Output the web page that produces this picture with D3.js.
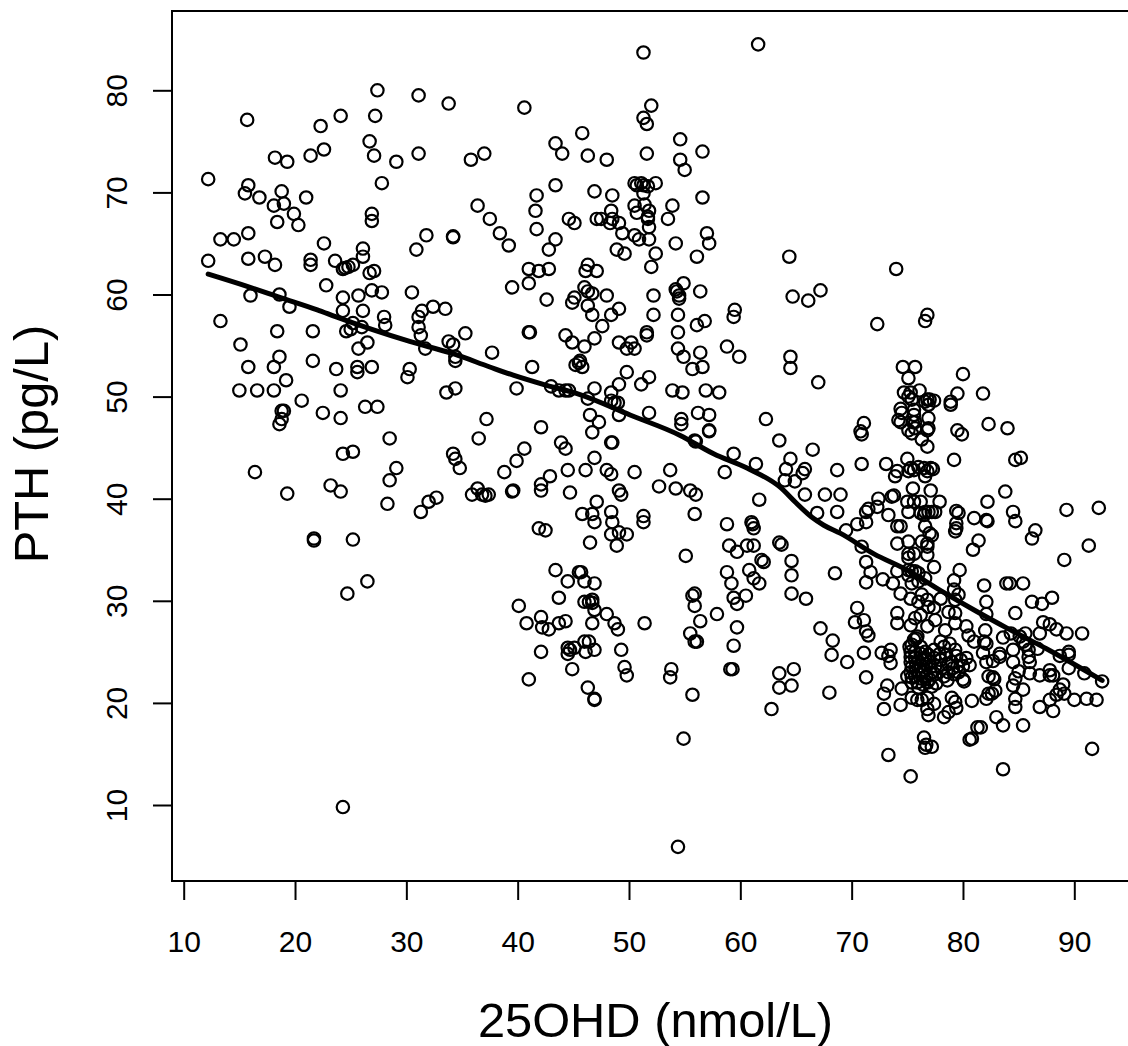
<!DOCTYPE html>
<html>
<head>
<meta charset="utf-8">
<script src="https://cdn.jsdelivr.net/npm/d3@7"></script>
<style>
  body { margin: 0; background: #fff; }
  text { font-family: "Liberation Sans", Arial, sans-serif; fill: #000; }
</style>
</head>
<body>
<svg id="chart"></svg>
<script>
// values, [25OHD, PTH], grouped by region
const upperLeft = [[27.4,80.0],[31.1,79.5],[33.8,78.7],[15.7,77.1],[22.3,76.5],[24.1,77.5],[27.2,77.5],[26.7,75.0],[27.1,73.6],[29.1,73.0],[31.1,73.8],[35.8,73.2],[37.0,73.8],[18.2,73.4],[19.3,73.0],[21.4,73.6],[22.6,74.2],[12.2,71.3],[15.8,70.7],[15.5,69.9],[16.8,69.5],[18.8,70.1],[18.1,68.7],[19.0,68.9],[21.0,69.5],[27.8,70.9],[36.4,68.7],[37.5,67.4],[19.9,67.9],[18.4,67.1],[20.3,66.8],[26.9,67.9],[26.9,67.2],[15.8,66.0],[13.3,65.4],[14.5,65.4],[31.8,65.8],[34.2,65.7],[34.2,65.6],[30.9,64.4],[22.6,65.0],[26.1,64.5],[26.1,63.7],[12.2,63.3],[15.8,63.5],[17.3,63.7],[18.2,62.9],[21.4,63.4],[21.4,62.9],[23.6,63.3],[24.3,62.5],[24.5,62.6],[24.8,62.7],[25.2,62.9],[27.1,62.3],[26.7,62.1],[22.8,60.9],[26.9,60.4],[27.8,60.2],[30.5,60.2],[16.0,59.9],[18.6,60.0],[24.3,59.7],[25.7,59.9]];

const lowerLeft = [[19.5,58.8],[24.3,58.4],[26.1,58.4],[28.0,57.8],[28.1,57.0],[31.4,58.4],[31.1,57.8],[32.4,58.8],[33.5,58.6],[31.1,56.8],[31.3,56.0],[31.7,54.7],[13.3,57.4],[18.4,56.4],[21.6,56.4],[25.2,57.2],[24.6,56.4],[25.0,56.6],[26.0,56.8],[26.5,55.3],[25.7,54.7],[35.3,56.2],[33.8,55.4],[34.2,55.1],[34.4,53.9],[34.4,53.5],[37.7,54.3],[15.1,55.1],[18.6,53.9],[18.1,52.9],[15.8,52.9],[21.6,53.5],[23.7,52.7],[25.6,52.9],[25.6,52.4],[26.9,52.9],[30.3,52.7],[30.1,51.9],[19.2,51.6],[15.0,50.6],[16.6,50.6],[18.1,50.6],[24.1,50.6],[34.4,50.8],[33.6,50.4],[20.6,49.6],[18.8,48.6],[19.0,48.6],[18.8,47.8],[18.6,47.3],[22.5,48.4],[24.1,47.9],[26.3,49.0],[27.4,49.0],[37.2,47.8],[28.5,45.9],[36.5,45.9],[24.3,44.4],[25.2,44.6],[34.2,44.4],[34.4,43.9],[34.8,43.0],[29.1,43.0],[28.5,41.8],[16.4,42.6],[19.3,40.5],[23.2,41.3],[24.1,40.7],[28.3,39.5],[32.7,40.1],[32.0,39.7],[31.3,38.7],[36.4,41.0],[35.9,40.4],[36.8,40.4],[37.1,40.3],[37.4,40.4],[21.7,36.1],[21.7,35.9],[25.2,36.0],[26.5,31.9],[24.7,30.7],[24.3,9.8]];

const upperMiddle = [[51.3,83.7],[61.6,84.5],[40.6,78.3],[52.0,78.5],[51.3,77.3],[51.6,76.7],[45.8,75.8],[43.4,74.8],[44.0,73.8],[46.3,73.6],[48.0,73.2],[51.6,73.8],[54.6,75.2],[56.6,74.0],[54.6,73.2],[55.0,72.2],[43.4,70.7],[41.7,69.7],[46.9,70.1],[48.5,69.7],[50.5,70.9],[51.1,70.9],[50.7,70.7],[51.3,70.7],[51.7,70.6],[52.4,70.9],[51.3,69.9],[56.6,69.5],[38.4,66.0],[39.2,64.8],[41.6,68.2],[41.7,66.4],[43.4,65.4],[42.8,64.4],[44.6,67.4],[45.1,67.0],[47.1,67.4],[47.5,67.4],[48.3,67.0],[48.4,68.2],[48.5,67.4],[49.1,67.0],[50.5,68.7],[50.7,68.0],[51.4,68.8],[51.8,68.2],[51.7,67.6],[51.7,67.4],[53.9,68.7],[53.5,67.4],[51.8,66.6],[49.4,66.0],[50.5,65.8],[50.9,65.4],[51.8,65.4],[54.2,65.0],[57.0,66.0],[57.2,65.0],[48.9,64.4],[49.6,64.0],[52.4,64.0],[56.1,63.7],[64.4,63.7],[52.0,62.7],[41.0,62.5],[41.9,62.3],[42.8,62.5],[46.3,62.9],[46.1,62.3],[47.1,62.3],[41.0,61.1],[39.5,60.7],[42.6,59.5],[46.0,60.7],[46.3,60.3],[46.7,60.1],[48.0,59.9],[45.1,59.7],[44.9,59.2],[54.9,61.1],[54.2,60.5],[54.3,60.3],[54.5,59.9],[54.5,59.6],[56.4,60.3],[52.2,59.9],[46.3,58.9],[46.7,58.0],[49.1,58.6],[48.4,58.0],[47.6,56.9],[52.2,58.0],[54.4,58.0],[59.5,58.5],[59.4,57.8],[56.1,57.0],[56.8,57.4],[64.7,59.8],[66.1,59.4],[67.2,60.4],[72.3,57.1],[74.0,62.5],[76.6,57.4],[76.8,58.0]];

const centerMiddle = [[41.0,56.3],[41.1,56.3],[44.3,56.0],[44.9,55.3],[46.9,55.7],[46.0,54.9],[49.1,55.3],[50.2,55.3],[49.8,54.7],[50.5,54.7],[51.6,56.3],[51.6,56.0],[54.4,56.3],[54.4,54.7],[54.9,53.9],[56.4,54.3],[58.8,54.9],[59.9,53.9],[55.7,52.7],[56.6,52.9],[41.3,52.9],[45.2,53.1],[45.6,53.5],[45.8,52.9],[45.5,53.3],[49.8,52.4],[51.8,51.9],[51.1,51.2],[49.1,51.2],[46.9,50.8],[48.4,50.4],[53.9,50.6],[54.8,50.4],[56.9,50.6],[58.1,50.4],[39.9,50.8],[43.0,51.0],[43.7,50.6],[44.3,50.6],[44.6,50.6],[46.3,49.8],[48.4,49.6],[48.7,49.4],[49.0,49.4],[49.1,48.2],[51.8,48.4],[56.2,48.4],[57.2,48.2],[54.7,47.8],[54.7,47.3],[46.5,48.2],[47.3,47.5],[42.1,47.0],[46.7,46.5],[57.2,46.7],[57.2,46.6],[55.9,45.7],[56.0,45.6],[62.3,47.8],[63.5,45.7],[48.4,45.5],[48.5,45.5],[43.9,45.5],[44.3,44.9],[40.6,44.9],[39.9,43.7],[38.8,42.6],[46.9,44.0],[44.5,42.8],[46.1,42.8],[48.0,42.8],[48.4,42.4],[50.5,42.6],[53.7,42.8],[58.6,42.6],[59.4,44.4],[61.4,43.4],[42.9,42.2],[42.1,41.4],[42.1,40.8],[39.6,40.8],[39.5,40.7],[44.7,40.6],[52.7,41.2],[54.2,41.0],[55.5,40.8],[56.0,40.4],[49.1,40.8],[49.3,40.4],[47.1,39.7],[61.7,39.9],[55.9,38.5],[45.8,38.5],[46.7,38.5],[46.9,37.7],[48.4,38.7],[48.5,37.7],[51.3,38.3],[51.3,37.7],[58.8,37.5],[61.0,37.7],[61.1,37.5],[61.2,37.1],[41.9,37.1],[42.5,36.9],[48.4,36.5],[49.1,36.7],[49.8,36.5],[46.5,35.7],[48.9,35.4],[55.1,34.4],[59.0,35.4],[59.7,34.8],[60.6,35.4],[61.2,35.4],[63.5,35.7],[61.9,34.0],[62.1,33.8]];

const lowerMiddle = [[58.8,32.8],[59.2,31.7],[60.8,33.0],[61.2,32.2],[61.7,31.7],[43.4,33.0],[44.5,31.9],[45.5,32.8],[45.7,32.8],[46.0,31.9],[46.9,31.7],[43.7,30.3],[40.1,29.5],[46.0,29.9],[46.4,29.9],[46.7,30.1],[46.7,29.8],[46.9,29.1],[48.0,28.7],[55.9,30.7],[55.7,30.5],[55.9,29.5],[59.4,30.3],[60.5,30.5],[59.7,29.7],[57.9,28.7],[42.1,28.4],[40.8,27.8],[42.2,27.4],[42.8,27.2],[43.7,27.8],[44.3,28.0],[46.7,27.8],[48.7,27.8],[49.0,27.2],[51.4,27.8],[56.4,28.0],[55.5,26.8],[55.9,26.0],[56.1,26.0],[59.7,27.4],[59.4,25.6],[44.5,25.4],[44.5,24.8],[45.1,25.4],[44.7,25.2],[42.1,25.0],[46.0,26.0],[46.4,26.0],[46.1,25.0],[46.9,25.2],[49.3,25.2],[49.6,23.5],[49.8,22.7],[44.9,23.3],[41.0,22.3],[53.8,23.3],[53.7,22.5],[59.1,23.3],[59.3,23.3],[55.7,20.8],[46.3,21.5],[46.9,20.4],[46.9,20.3],[54.9,16.5],[54.4,5.9],[63.5,22.9],[63.5,21.5],[62.8,19.4],[64.8,23.3],[64.6,21.7],[67.2,27.3],[68.3,26.1],[68.2,24.7],[68.0,21.0],[65.9,30.2],[64.6,30.7],[64.6,32.5],[64.6,33.9],[63.7,35.5],[68.5,32.7]];

const upperRight = [[64.5,53.9],[64.5,52.8],[67.0,51.4],[74.6,52.9],[75.7,52.9],[75.1,51.8],[74.7,50.4],[75.3,50.4],[76.1,50.6],[75.1,50.0],[75.4,49.7],[76.8,49.7],[77.0,49.7],[77.4,49.6],[76.9,49.2],[76.6,49.5],[78.9,49.5],[78.9,49.2],[79.5,50.3],[80.0,52.2],[81.8,50.3],[82.3,47.3],[84.0,46.9],[74.4,48.8],[74.5,48.4],[74.2,47.7],[74.4,47.5],[75.6,48.7],[75.6,48.2],[76.9,47.9],[75.5,47.5],[75.7,47.5],[76.9,46.9],[76.8,46.7],[75.1,46.7],[75.4,46.4],[75.7,46.9],[76.3,45.8],[76.8,45.1],[71.1,47.4],[70.8,46.6],[70.9,46.3],[79.5,46.7],[79.9,46.3],[66.5,44.8],[64.5,43.9],[64.1,42.9],[65.8,42.9],[65.6,42.5],[64.0,41.8],[64.9,41.7],[68.7,42.8],[70.9,43.4],[73.1,43.4],[75.0,43.9],[74.1,42.7],[73.9,42.2],[75.3,43.0],[75.6,42.8],[76.0,43.1],[76.5,43.0],[76.8,42.7],[77.1,43.0],[77.3,42.9],[76.6,42.2],[75.1,42.7],[79.2,43.8],[84.7,43.8],[85.2,44.0],[75.5,41.0],[77.1,40.8],[77.9,39.7],[72.4,40.0],[73.8,40.3],[73.6,40.2],[71.5,39.0],[72.3,39.2],[71.3,38.7],[67.6,40.4],[69.0,40.4],[68.7,38.7],[65.8,40.4],[66.9,38.6],[73.3,38.4],[75.0,39.7],[75.6,39.7],[76.2,39.7],[75.1,38.7],[76.2,38.6],[76.6,38.7],[76.9,38.7],[77.2,38.7],[77.5,38.7],[76.5,38.4]];

const midRight = [[69.5,36.9],[70.5,37.5],[71.3,37.7],[74.1,37.3],[74.4,37.3],[76.6,37.3],[77.0,36.6],[77.2,36.4],[79.4,38.8],[79.6,38.6],[79.4,37.6],[79.4,37.1],[79.3,36.8],[81.0,38.1],[82.1,37.9],[81.4,35.9],[80.9,35.0],[70.9,35.3],[71.3,33.8],[71.7,32.8],[71.3,31.8],[72.8,32.1],[73.7,31.7],[74.4,30.7],[74.1,35.6],[75.1,35.8],[76.3,35.8],[76.8,35.6],[76.8,35.3],[75.1,34.6],[75.1,34.2],[75.6,34.6],[76.8,34.5],[77.4,33.3],[74.1,32.9],[75.1,33.0],[75.4,32.9],[75.7,32.9],[76.0,32.7],[75.1,32.5],[76.6,32.2],[75.4,31.7],[76.0,31.9],[79.7,33.0],[79.2,32.0],[79.2,31.1],[79.6,30.6],[79.3,30.1],[81.9,31.5],[83.9,31.7],[82.1,29.9],[82.1,28.7],[75.3,30.2],[76.3,30.6],[76.8,30.1],[76.0,29.9],[76.9,29.4],[77.4,29.3],[78.0,30.2],[78.7,28.9],[79.3,28.8],[79.3,27.8],[70.5,29.3],[71.1,28.1],[70.3,27.9],[74.1,28.8],[74.1,27.8],[75.3,27.6],[75.7,28.3],[76.2,28.6],[76.8,27.5],[77.5,28.1],[71.3,27.0],[71.5,26.6],[78.4,27.1],[78.0,26.0],[78.8,25.8],[80.3,27.5],[80.5,26.6],[82.0,27.1],[81.0,26.0],[81.9,26.0],[82.1,25.8],[75.9,26.5],[75.4,25.7],[76.2,25.5]];

const denseCluster = [[75.2,25.5],[75.3,25.0],[75.3,24.5],[75.3,24.0],[75.4,23.5],[75.3,23.0],[75.4,22.5],[75.4,22.0],[75.6,26.2],[75.8,26.3],[75.7,25.0],[75.7,24.4],[75.8,23.8],[75.8,23.2],[75.7,22.6],[75.9,22.0],[76.0,21.5],[76.2,24.8],[76.3,24.2],[76.2,23.6],[76.3,23.0],[76.2,22.4],[76.4,21.8],[76.6,25.0],[76.6,24.3],[76.7,23.8],[76.6,23.2],[76.7,22.6],[76.8,22.0],[76.9,24.7],[77.0,24.0],[77.1,23.5],[77.1,22.9],[77.0,22.3],[77.2,21.6],[77.4,25.2],[77.4,24.4],[77.5,23.6],[77.5,22.8],[77.6,21.9],[77.9,24.8],[78.0,24.2],[78.1,23.4],[78.3,22.6],[78.3,25.5],[78.5,24.7],[78.7,23.8],[78.7,23.0],[78.6,22.2],[79.0,24.0],[79.1,23.4],[79.2,22.8],[79.3,25.2],[79.4,24.6],[79.5,23.6],[79.6,23.0],[79.8,24.2],[80.0,23.6],[80.0,22.3],[80.1,22.1],[80.6,23.7],[80.3,24.4],[81.8,24.9],[82.1,24.0],[82.3,22.6],[82.3,20.9],[82.1,20.4]];

const lowerRight = [[69.6,24.0],[71.1,24.9],[72.7,24.9],[73.5,25.2],[73.3,24.6],[73.5,23.9],[71.3,22.5],[73.2,21.7],[72.9,20.9],[72.9,19.4],[74.4,19.8],[74.5,21.4],[75.0,22.6],[75.4,20.5],[75.9,20.3],[76.3,20.3],[76.8,20.5],[77.4,19.9],[76.8,19.4],[76.9,18.8],[78.3,18.6],[79.0,20.5],[79.3,20.1],[79.4,19.5],[78.7,19.1],[80.8,20.2],[81.3,17.6],[80.8,16.5],[80.6,16.4],[76.5,16.6],[76.7,15.9],[77.2,15.7],[76.6,15.6],[73.3,14.9],[75.3,12.8]];

const farRight = [[83.8,40.7],[82.2,39.7],[82.2,37.8],[84.5,38.7],[84.7,37.8],[89.3,38.9],[92.2,39.1],[86.5,36.9],[86.2,36.1],[91.3,35.4],[89.1,34.0],[84.2,31.7],[85.4,31.7],[86.2,29.9],[87.1,29.7],[88.0,30.3],[84.7,28.8],[87.2,27.9],[87.8,27.7],[88.4,27.2],[89.3,26.8],[90.7,26.8],[86.9,26.8],[83.6,26.4],[84.3,26.8],[85.6,26.8],[85.1,26.5],[85.4,26.0],[85.6,25.7],[85.9,25.2],[84.5,25.2],[83.3,24.8],[85.9,24.5],[86.0,24.0],[84.5,24.0],[82.7,24.1],[83.3,24.5],[86.7,25.3],[88.7,24.6],[89.5,25.0],[89.5,24.7],[89.5,23.4],[90.9,22.9],[92.5,22.1],[85.0,23.1],[86.0,22.9],[86.9,22.7],[87.8,23.2],[87.8,22.7],[88.1,22.7],[82.7,22.5],[82.8,22.3],[84.7,22.4],[84.5,21.7],[85.4,21.3],[82.9,21.2],[82.6,20.9],[84.7,20.4],[84.7,19.6],[89.0,21.8],[88.7,21.3],[88.4,20.8],[87.8,20.3],[89.1,20.9],[90.0,20.3],[91.1,20.4],[92.0,20.3],[86.9,19.6],[88.1,19.2],[83.0,18.6],[83.6,17.8],[85.4,17.8],[81.6,17.6],[91.6,15.5],[83.6,13.5]];

// smooth curve through the cloud
const smoothX = [12.2,15.7,18.7,22,23.7,30.3,34.2,37.5,39.6,42.6,45.6,50.1,54.6,57.6,60.6,63.6,65,66.4,67.5,69,72,75,78,81,84,87.5,92.5];
const smoothY = [62,60.8,59.7,58.5,57.8,55.4,54.2,52.9,52.1,51.1,50.2,48.2,46.2,44.4,43,41.1,39.6,38.2,37.4,36.6,34.6,33,31,29.1,27.3,25.3,22.2];

const xTicks = [10,20,30,40,50,60,70,80,90];
const yTicks = [10,20,30,40,50,60,70,80];

const width = 1128, height = 1046;
const box = { left: 172, top: 11, bottom: 881 };

const svg = d3.select("#chart")
    .attr("width", width)
    .attr("height", height)
    .style("display", "block");

const x = d3.scaleLinear().domain([10, 90]).range([183.7, 1074.3]);
const y = d3.scaleLinear().domain([10, 80]).range([805, 90.3]);

// plot box, runs off the right edge
svg.append("rect")
    .attr("x", box.left)
    .attr("y", box.top)
    .attr("width", width - box.left + 10)
    .attr("height", box.bottom - box.top)
    .attr("fill", "none")
    .attr("stroke", "#000")
    .attr("stroke-width", 2);

const xAxis = svg.append("g")
    .attr("transform", `translate(0,${box.bottom})`)
    .call(d3.axisBottom(x).tickValues(xTicks).tickSize(19).tickPadding(31).tickFormat(d3.format("d")));
xAxis.select(".domain").remove();
xAxis.selectAll("line").attr("stroke", "#000").attr("stroke-width", 2);
xAxis.selectAll("text").attr("font-size", 30);

const yAxis = svg.append("g")
    .attr("transform", `translate(${box.left},0)`)
    .call(d3.axisLeft(y).tickValues(yTicks).tickSize(19).tickFormat(d3.format("d")));
yAxis.select(".domain").remove();
yAxis.selectAll("line").attr("stroke", "#000").attr("stroke-width", 2);
yAxis.selectAll("text")
    .attr("font-size", 30)
    .attr("x", null)
    .attr("dy", null)
    .attr("text-anchor", "middle")
    .attr("transform", "translate(-45,0) rotate(-90)");

// points
const allPoints = [].concat(upperLeft, lowerLeft, upperMiddle, centerMiddle, lowerMiddle, upperRight, midRight, denseCluster, lowerRight, farRight);

svg.append("g")
    .attr("fill", "none")
    .attr("stroke", "#000")
    .attr("stroke-width", 2.2)
    .selectAll("circle")
    .data(allPoints)
    .enter()
    .append("circle")
    .attr("cx", d => x(d[0]))
    .attr("cy", d => y(d[1]))
    .attr("r", 6.2);

// smooth line
const line = d3.line().x(d => x(d[0])).y(d => y(d[1])).curve(d3.curveMonotoneX);

svg.append("path")
    .datum(smoothX.map((v, i) => [v, smoothY[i]]))
    .attr("fill", "none")
    .attr("stroke", "#000")
    .attr("stroke-width", 5)
    .attr("stroke-linecap", "round")
    .attr("stroke-linejoin", "round")
    .attr("d", line);

// axis titles
svg.append("text")
    .attr("x", 655.5)
    .attr("y", 1037)
    .attr("text-anchor", "middle")
    .attr("font-size", 48.8)
    .text("25OHD (nmol/L)");

svg.append("text")
    .attr("transform", "translate(48,444) rotate(-90)")
    .attr("text-anchor", "middle")
    .attr("font-size", 48.8)
    .text("PTH (pg/L)");
</script>
</body>
</html>
